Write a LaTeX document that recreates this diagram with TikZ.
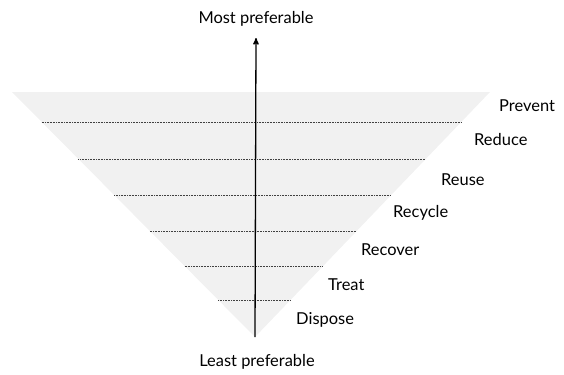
\documentclass[tikz,border=0pt]{standalone}
\usepackage{fontspec}
\setmainfont{Lato}
\usepackage{tikz}
\usetikzlibrary{arrows,calc}
\definecolor{pyrfill}{RGB}{241,241,241}
\tikzstyle{tierline}=[densely dotted, line width=0.6pt, black!75]
\tikzstyle{tierlabel}=[anchor=west, inner sep=0pt, font=\fontsize{16.5}{19}\selectfont]
\tikzstyle{endlabel}=[inner sep=0pt, font=\fontsize{16.5}{19}\selectfont]
\tikzstyle{prefarrow}=[->, >=stealth', line width=1.3pt]

\begin{document}
\begin{tikzpicture}[x=1bp,y=-1bp]
        \useasboundingbox (0,0) rectangle (564,374);
        % pyramid corners
        \coordinate (tl) at (12,92);
        \coordinate (tr) at (490,92);
        \coordinate (apex) at (255,337);
        \fill[pyrfill] (tl) -- (tr) -- (apex) -- cycle;
        % tier separators
        \draw[tierline] ($(tl)!0.1224!(apex)$) -- ($(tr)!0.1224!(apex)$);
        \draw[tierline] ($(tl)!0.2735!(apex)$) -- ($(tr)!0.2735!(apex)$);
        \draw[tierline] ($(tl)!0.4204!(apex)$) -- ($(tr)!0.4204!(apex)$);
        \draw[tierline] ($(tl)!0.5673!(apex)$) -- ($(tr)!0.5673!(apex)$);
        \draw[tierline] ($(tl)!0.7102!(apex)$) -- ($(tr)!0.7102!(apex)$);
        \draw[tierline] ($(tl)!0.8490!(apex)$) -- ($(tr)!0.8490!(apex)$);
        % labels
        \node[tierlabel] (prevent) at (499,106) {Prevent};
        \node[tierlabel] (reduce) at (474,140) {Reduce};
        \node[tierlabel] (reuse) at (441,180) {Reuse};
        \node[tierlabel] (recycle) at (393,213) {Recycle};
        \node[tierlabel] (recover) at (361,250) {Recover};
        \node[tierlabel] (treat) at (328,285) {Treat};
        \node[tierlabel] (dispose) at (296,320) {Dispose};
        \node[endlabel] (most) at (256,19) {Most preferable};
        \node[endlabel] (least) at (257,362) {Least preferable};
        \coordinate (top) at (256,38);
        \draw[prefarrow] (apex) -- (top);
      \end{tikzpicture}
\end{document}
